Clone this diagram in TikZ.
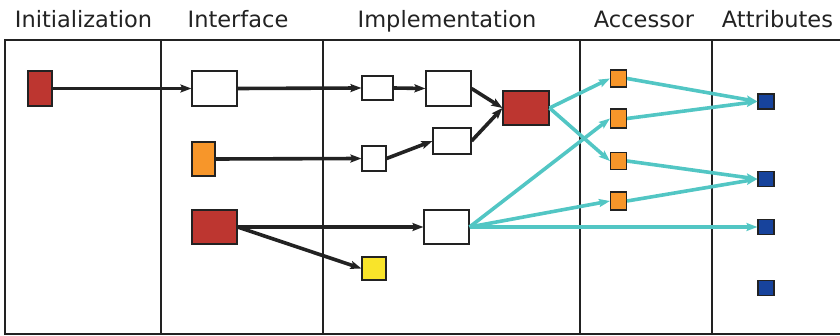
\documentclass[tikz,border=0pt]{standalone}
\usepackage{fontspec}
\setmainfont{DejaVu Sans}
\usetikzlibrary{arrows.meta}
\definecolor{cred}{HTML}{BD3630}
\definecolor{corange}{HTML}{F7962A}
\definecolor{cyellow}{HTML}{F9E42A}
\definecolor{cblue}{HTML}{17439C}
\definecolor{cteal}{HTML}{52C6C4}
\definecolor{cline}{HTML}{222222}
\begin{document}
\begin{tikzpicture}[x=1pt,y=-1pt,
  box/.style={draw=cline,line width=1.1pt,inner sep=0pt,minimum width=#1},
  box/.default=45pt,
  hdr/.style={anchor=base,font=\fontsize{22.5}{25}\selectfont,text=cline,inner sep=0pt},
  blk/.style={draw=cline,line width=3.6pt,-{Stealth[length=11pt,width=8pt,inset=2pt]}},
  tl/.style={draw=cteal,line width=3.6pt,-{Stealth[length=11pt,width=8pt,inset=2pt]}},
  frame/.style={draw=cline,line width=1.5pt}]
\useasboundingbox (0,0) rectangle (840,336);
% headers
\node[hdr] (h1) at (83.5,28) {Initialization};
\node[hdr] (h2) at (238,28) {Interface};
\node[hdr] (h3) at (447,28) {Implementation};
\node[hdr] (h4) at (644,28) {Accessor};
\node[hdr] (h5) at (777.5,28) {Attributes};
% frame
\draw[frame] (840,40) -- (5,40) -- (5,334) -- (840,334);
\draw[frame] (161,40) -- (161,334);
\draw[frame] (323,40) -- (323,334);
\draw[frame] (580,40) -- (580,334);
\draw[frame] (712,40) -- (712,334);
% nodes
\node[box=24pt,minimum height=35pt,fill=cred] (ir) at (40,88.5) {};
\node[box=45pt,minimum height=35pt,fill=white] (w1) at (214.5,88.5) {};
\node[box=23pt,minimum height=34pt,fill=corange] (io) at (203.5,159) {};
\node[box=45pt,minimum height=34pt,fill=cred] (r2) at (214.5,227) {};
\node[box=31pt,minimum height=24pt,fill=white] (s1) at (377.5,88) {};
\node[box=24pt,minimum height=25pt,fill=white] (s2) at (374,158.5) {};
\node[box=24pt,minimum height=23pt,fill=cyellow] (y1) at (374,268.5) {};
\node[box=45pt,minimum height=35pt,fill=white] (w3) at (448.5,88.5) {};
\node[box=38pt,minimum height=26pt,fill=white] (w4) at (452,141) {};
\node[box=46pt,minimum height=34pt,fill=cred] (r3) at (526,108) {};
\node[box=45pt,minimum height=34pt,fill=white] (w5) at (446.5,227) {};
\node[box=16pt,minimum height=17pt,fill=corange] (a1) at (618.5,78.5) {};
\node[box=16pt,minimum height=19pt,fill=corange] (a2) at (618.5,118.5) {};
\node[box=16pt,minimum height=17pt,fill=corange] (a3) at (618.5,161) {};
\node[box=16pt,minimum height=18pt,fill=corange] (a4) at (618.5,201) {};
\node[box=16pt,minimum height=15pt,fill=cblue] (b1) at (766,101.5) {};
\node[box=16pt,minimum height=15pt,fill=cblue] (b2) at (766,179) {};
\node[box=16pt,minimum height=15pt,fill=cblue] (b3) at (766,227) {};
\node[box=16pt,minimum height=15pt,fill=cblue] (b4) at (766,288) {};
% black connectors
\draw[blk] (ir.east) -- (w1.west);
\draw[blk] (w1.east) -- (s1.west);
\draw[blk] (s1.east) -- (w3.west);
\draw[blk] (io.east) -- (s2.west);
\draw[blk] (s2.east) -- (w4.west);
\draw[blk] (w3.east) -- (r3.west);
\draw[blk] (w4.east) -- (r3.west);
\draw[blk] (r2.east) -- (w5.west);
\draw[blk] (r2.east) -- (y1.west);
% teal connectors
\draw[tl] (r3.east) -- (a1.west);
\draw[tl] (r3.east) -- (a3.west);
\draw[tl] (w5.east) -- (a2.west);
\draw[tl] (w5.east) -- (a4.west);
\draw[tl] (w5.east) -- (b3.west);
\draw[tl] (a1.east) -- (b1.west);
\draw[tl] (a2.east) -- (b1.west);
\draw[tl] (a3.east) -- (b2.west);
\draw[tl] (a4.east) -- (b2.west);
\end{tikzpicture}
\end{document}
